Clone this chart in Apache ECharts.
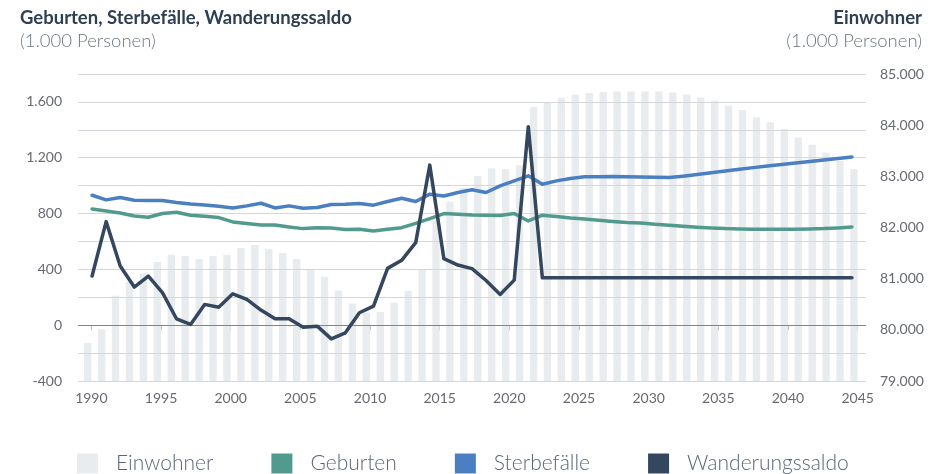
<!DOCTYPE html>
<html lang="de">
<head>
<meta charset="UTF-8">
<title>Geburten, Sterbefälle, Wanderungssaldo</title>
<script src="https://cdn.jsdelivr.net/npm/echarts@6/dist/echarts.min.js"></script>
<style>
  html, body { margin: 0; padding: 0; background: #fff; }
  #main { width: 944px; height: 474px; }
</style>
</head>
<body>
<div id="main"></div>
<script>
// Jahre der Säulen (Einwohner) und der Linien
var barYears = [1990, 1991, 1992, 1993, 1994, 1995, 1996, 1997, 1998, 1999,
  2000, 2001, 2002, 2003, 2004, 2005, 2006, 2007, 2008, 2009,
  2010, 2011, 2012, 2013, 2014, 2015, 2016, 2017, 2018, 2019,
  2020, 2021, 2022, 2023, 2024, 2025, 2026, 2027, 2028, 2029,
  2030, 2031, 2032, 2033, 2034, 2035, 2036, 2037, 2038, 2039,
  2040, 2041, 2042, 2043, 2044, 2045];
var lineYears = [1990, 1991, 1992, 1993, 1994, 1995, 1996, 1997, 1998, 1999,
  2000, 2001, 2002, 2003, 2004, 2005, 2006, 2007, 2008, 2009,
  2010, 2011, 2012, 2013, 2014, 2015, 2016, 2017, 2018, 2019,
  2020, 2021, 2022, 2023, 2024, 2025, 2026, 2027, 2028, 2029,
  2030, 2031, 2032, 2033, 2034, 2035, 2036, 2037, 2038, 2039,
  2040, 2041, 2042, 2043, 2044];

// Einwohner (1.000 Personen), rechte Achse
var einwohner = [79744, 80012, 80664, 80939, 81103, 81324, 81467, 81442, 81383, 81442,
  81467, 81598, 81657, 81579, 81500, 81383, 81187, 81036, 80762, 80516,
  80339, 80351, 80535, 80762, 81181, 82176, 82505, 82773, 83008, 83159,
  83145, 83218, 84353, 84443, 84535, 84594, 84627, 84647, 84660, 84660,
  84660, 84660, 84640, 84600, 84541, 84476, 84378, 84294, 84157, 84059,
  83923, 83758, 83615, 83465, 83300, 83139];

// Geburten, Sterbefälle, Wanderungssaldo (1.000 Personen), linke Achse
var geburten = [833, 819, 804, 783, 773, 800, 809, 788, 781, 771,
  740, 728, 718, 718, 704, 692, 699, 697, 685, 687,
  675, 687, 699, 730, 764, 800, 795, 790, 788, 786,
  800, 747, 788, 778, 768, 761, 752, 743, 735, 733,
  723, 716, 709, 702, 697, 692, 690, 687, 687, 687,
  687, 690, 692, 697, 704];
var sterbefaelle = [931, 898, 915, 895, 893, 893, 879, 869, 862, 852,
  840, 855, 874, 840, 855, 838, 843, 865, 867, 872,
  860, 886, 910, 886, 939, 926, 951, 970, 951, 998,
  1034, 1070, 1010, 1034, 1051, 1063, 1063, 1066, 1063, 1062,
  1060, 1058, 1068, 1079, 1092, 1105, 1117, 1129, 1140, 1151,
  1162, 1173, 1184, 1195, 1206];
var wanderung = [352, 742, 424, 273, 352, 233, 46, 5, 149, 129,
  225, 185, 108, 46, 46, -14, -7, -98, -55, 89,
  136, 407, 465, 592, 1147, 477, 431, 405, 320, 220,
  323, 1422, 340, 340, 340, 340, 340, 340, 340, 340,
  340, 340, 340, 340, 340, 340, 340, 340, 340, 340,
  340, 340, 340, 340, 340];

var yearTicks = [1990, 1995, 2000, 2005, 2010, 2015, 2020, 2025, 2030, 2035, 2040, 2045];

function fmt(v) {
  return String(v).replace(/\B(?=(\d{3})+(?!\d))/g, '.');
}
function pairs(xs, ys) {
  return xs.map(function (x, i) { return [x, ys[i]]; });
}

var gridColor = '#d3d7dc';
var splitColors = [];
for (var i = 0; i < 12; i++) splitColors.push(i === 2 ? '#7c8591' : gridColor);

var titleStyle = { fontFamily: 'Lato', fontSize: 18.5, fontWeight: 'bold', color: '#2f3f52' };
var subStyle = { fontFamily: 'Lato', fontSize: 18.5, fontWeight: 300, color: '#6e7680' };

var chart = echarts.init(document.getElementById('main'));
chart.setOption({
  animation: false,
  textStyle: { fontFamily: 'Lato' },
  title: [{
    text: 'Geburten, Sterbefälle, Wanderungssaldo',
    subtext: '(1.000 Personen)',
    left: 15, top: 4, itemGap: 4,
    textStyle: titleStyle, subtextStyle: subStyle
  }, {
    text: 'Einwohner',
    right: 17, top: 4,
    textStyle: titleStyle
  }, {
    text: '(1.000 Personen)',
    right: 17, top: 26.5,
    textStyle: subStyle
  }],
  legend: {
    data: ['Einwohner', 'Geburten', 'Sterbefälle', 'Wanderungssaldo'],
    left: 72, top: 448,
    icon: 'rect', itemWidth: 21, itemHeight: 20, itemGap: 58,
    textStyle: { fontFamily: 'Lato', fontSize: 21, fontWeight: 300, color: '#5b6677', padding: [0, 0, 0, 13] }
  },
  grid: { left: 78, right: 78, top: 74, bottom: 93 },
  xAxis: [{
    type: 'value', min: 1989.04, max: 2045.6,
    axisLine: { show: true, lineStyle: { color: gridColor } },
    axisTick: { show: true, length: 5, lineStyle: { color: '#b9bec5' }, customValues: yearTicks },
    axisLabel: { customValues: yearTicks, margin: 10, fontSize: 14, color: '#666a70', formatter: function (v) { return String(v); } },
    splitLine: { show: false }
  }, {
    type: 'value', min: 1989, max: 2045, show: false
  }],
  yAxis: [{
    type: 'value', position: 'left', min: -400, max: 1800, interval: 200, z: 3,
    axisLine: { show: false }, axisTick: { show: false },
    axisLabel: {
      margin: 16, fontSize: 14, color: '#666a70',
      formatter: function (v) { return (v % 400 === 0 && v < 1800) ? fmt(v) : ''; }
    },
    splitLine: { show: true, lineStyle: { color: splitColors, width: 1 } }
  }, {
    type: 'value', position: 'right', min: 79000, max: 85000, interval: 1000,
    axisLine: { show: false }, axisTick: { show: false },
    axisLabel: { margin: 14, fontSize: 14, color: '#666a70', formatter: fmt },
    splitLine: { show: false }
  }],
  series: [{
    name: 'Einwohner', type: 'bar', xAxisIndex: 0, yAxisIndex: 1,
    data: pairs(barYears, einwohner),
    barWidth: 7.4, barGap: '0%', z: 2,
    itemStyle: { color: '#e9ecef' }
  }, {
    name: 'spacer', type: 'bar', xAxisIndex: 0, yAxisIndex: 1,
    data: barYears.map(function (y) { return [y, '-']; }),
    barWidth: 7.4, barGap: '0%', silent: true,
    itemStyle: { color: 'transparent' }
  }, {
    name: 'Geburten', type: 'line', xAxisIndex: 1, yAxisIndex: 0,
    data: pairs(lineYears, geburten), showSymbol: false, z: 5,
    lineStyle: { width: 3.5, color: '#519a8e', cap: 'round', join: 'round' },
    itemStyle: { color: '#519a8e' }
  }, {
    name: 'Sterbefälle', type: 'line', xAxisIndex: 1, yAxisIndex: 0,
    data: pairs(lineYears, sterbefaelle), showSymbol: false, z: 5,
    lineStyle: { width: 3.5, color: '#4a7fc1', cap: 'round', join: 'round' },
    itemStyle: { color: '#4a7fc1' }
  }, {
    name: 'Wanderungssaldo', type: 'line', xAxisIndex: 1, yAxisIndex: 0,
    data: pairs(lineYears, wanderung), showSymbol: false, z: 6,
    lineStyle: { width: 3.5, color: '#34475e', cap: 'round', join: 'round' },
    itemStyle: { color: '#34475e' }
  }]
});
</script>
</body>
</html>
